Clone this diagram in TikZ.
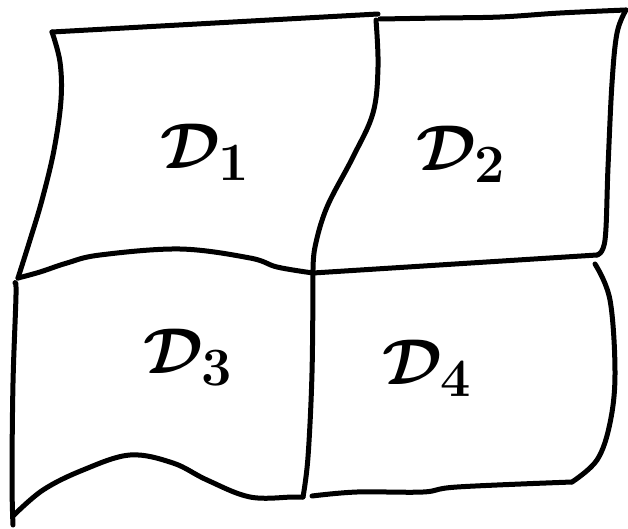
\documentclass[tikz,border=0pt]{standalone}
\usepackage{amsmath}
\usepackage{tikz}

\begin{document}
\begin{tikzpicture}[x=1pt,y=1pt,yscale=-1,xscale=1,
    sketch/.style={line width=5pt, line cap=round, line join=round},
    region/.style={font=\Huge\boldmath, scale=2.6, inner sep=0pt}]
    \useasboundingbox (0,0) rectangle (628,529);

    %Corners
    \coordinate (tl) at (52,32);
    \coordinate (tm) at (378,14);
    \coordinate (tr) at (626,10);
    \coordinate (ml) at (18,278);
    \coordinate (mm) at (313,273);
    \coordinate (mr) at (597,255);
    \coordinate (bl) at (13,516);
    \coordinate (bm) at (303,497);
    \coordinate (br) at (572,482);

    %Straight Lines [top of D1]
    \draw [sketch] (tl) -- (tm) ;
    %Curve Lines [left of D1]
    \draw [sketch] plot [smooth, tension=0.6] coordinates {(tl) (60,62) (61,100) (54,150) (42,200) (30,240) (ml)} ;
    %Curve Lines [bottom of D1]
    \draw [sketch] plot [smooth, tension=0.6] coordinates {(ml) (40,272) (67,263) (100,255) (180,249) (250,258) (277,267) (mm)} ;
    %Curve Lines [between D1 and D2]
    \draw [sketch] plot [smooth, tension=0.6] coordinates {(376,20) (378,67) (373,113) (353,157) (327,207) (315,247) (mm)} ;
    %Curve Lines [top of D2]
    \draw [sketch] plot [smooth, tension=0.6] coordinates {(380,19) (440,18) (500,17) (560,13) (tr)} ;
    %Curve Lines [right of D2]
    \draw [sketch] plot [smooth, tension=0.6] coordinates {(tr) (617,33) (612,83) (608,167) (605,240) (mr)} ;
    %Straight Lines [between D2 and D4]
    \draw [sketch] (mm) -- (mr) ;

    %Curve Lines [left of D3]
    \draw [sketch] plot [smooth, tension=0.6] coordinates {(15,283) (16,295) (13,383) (12,480) (13,525)} ;
    %Curve Lines [bottom of D3]
    \draw [sketch] plot [smooth, tension=0.6] coordinates {(bl) (43,490) (83,470) (130,455) (173,463) (207,480) (250,497) (293,497) (bm)} ;
    %Curve Lines [between D3 and D4]
    \draw [sketch] plot [smooth, tension=0.6] coordinates {(mm) (312,373) (308,457) (bm)} ;
    %Curve Lines [right of D4]
    \draw [sketch] plot [smooth, tension=0.6] coordinates {(595,264) (610,300) (615,373) (610,423) (597,460) (br)} ;
    %Curve Lines [bottom of D4]
    \draw [sketch] plot [smooth, tension=0.6] coordinates {(br) (457,487) (423,492) (357,492) (312,496)} ;

    % Text Node
    \node [region] (d1) at (205,152) {$\mathcal{D}_1$};
    % Text Node
    \node [region] (d2) at (461,154) {$\mathcal{D}_2$};
    % Text Node
    \node [region] (d3) at (188,357) {$\mathcal{D}_3$};
    % Text Node
    \node [region] (d4) at (427,368) {$\mathcal{D}_4$};
\end{tikzpicture}
\end{document}
